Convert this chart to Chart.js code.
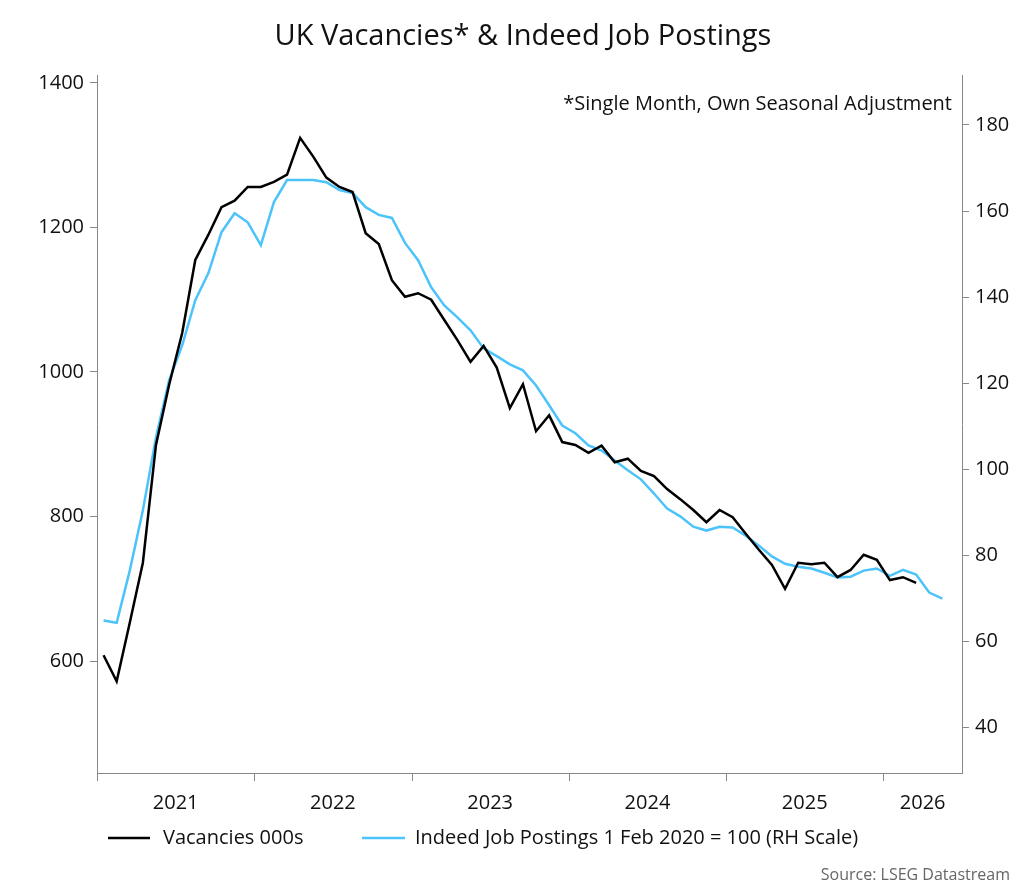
<!DOCTYPE html>
<html><head><meta charset="utf-8">
<script src="https://cdn.jsdelivr.net/npm/chart.js@4/dist/chart.umd.min.js"></script>
<style>html,body{margin:0;background:#fff}#c{display:block}</style>
</head><body>
<canvas id="c" width="1024" height="889"></canvas>
<script>
// months since Jan 2021, plotted at mid-month
const years = ['2021', '2022', '2023', '2024', '2025', '2026'];
const vacancies = [608, 572, 653, 736, 899, 982, 1054, 1155, 1190, 1228, 1237, 1256,
  1256, 1263, 1273, 1324, 1298, 1269, 1256, 1249, 1192, 1177, 1127, 1104,
  1109, 1100, 1072, 1044, 1014, 1036, 1006, 950, 983, 918, 940, 903,
  899, 888, 898, 875, 880, 863, 856, 838, 824, 809, 792, 809,
  799, 776, 754, 733, 700, 736, 734, 736, 716, 726, 747, 740,
  712, 716, 708];
const indeed = [64.9, 64.4, 76.5, 90.5, 107.4, 120.7, 128.8, 139.3, 145.6, 155.1, 159.5, 157.4,
  152.1, 162.1, 167.2, 167.2, 167.2, 166.7, 164.9, 164.2, 160.9, 159.1, 158.4, 152.6,
  148.6, 142.3, 138.1, 135.3, 132.3, 128.1, 126.3, 124.4, 123.0, 119.5, 114.9, 110.2,
  108.4, 105.6, 104.4, 102.1, 99.8, 97.7, 94.4, 90.9, 89.1, 86.7, 85.8, 86.7,
  86.5, 84.6, 82.3, 79.8, 78.1, 77.4, 77.0, 76.0, 74.9, 75.1, 76.5, 77.0,
  75.3, 76.7, 75.6, 71.4, 70.0];
const leftTicks = [600, 800, 1000, 1200, 1400];
const rightTicks = [40, 60, 80, 100, 120, 140, 160, 180];
const yearLabelPos = [6, 18, 30, 42, 54, 63];

const FONT = "'Open Sans', sans-serif";
const AXIS = '#888';
const BLUE = '#4cc3fa';

const extras = {
  id: 'extras',
  afterDraw(chart) {
    const ctx = chart.ctx, x = chart.scales.x, a = chart.chartArea;
    ctx.save();
    ctx.strokeStyle = AXIS; ctx.lineWidth = 1;
    for (let m = 0; m <= 60; m += 12) {
      const px = Math.round(x.getPixelForValue(m)) + 0.5;
      ctx.beginPath(); ctx.moveTo(px, a.bottom); ctx.lineTo(px, a.bottom + 8); ctx.stroke();
    }
    ctx.fillStyle = '#111';
    ctx.font = "29px " + FONT; ctx.textAlign = 'center'; ctx.textBaseline = 'middle';
    ctx.fillText('UK Vacancies* & Indeed Job Postings', 523, 37);
    ctx.font = "20px " + FONT; ctx.textAlign = 'right';
    ctx.fillText('*Single Month, Own Seasonal Adjustment', 952, 104);
    // legend
    ctx.lineWidth = 2.5;
    ctx.strokeStyle = '#000';
    ctx.beginPath(); ctx.moveTo(108, 838); ctx.lineTo(150, 838); ctx.stroke();
    ctx.strokeStyle = BLUE;
    ctx.beginPath(); ctx.moveTo(362, 838); ctx.lineTo(405, 838); ctx.stroke();
    ctx.textAlign = 'left';
    ctx.fillText('Vacancies 000s', 163, 838);
    ctx.fillText('Indeed Job Postings 1 Feb 2020 = 100 (RH Scale)', 415, 838);
    ctx.font = "16px " + FONT; ctx.textAlign = 'right'; ctx.fillStyle = '#666';
    ctx.fillText('Source: LSEG Datastream', 1010, 875);
    ctx.restore();
  }
};

new Chart(document.getElementById('c').getContext('2d'), {
  type: 'line',
  data: {
    datasets: [
      { label: 'Vacancies 000s', data: vacancies.map((v, i) => ({ x: i + 0.5, y: v })),
        borderColor: '#000', borderWidth: 2.5, pointRadius: 0, tension: 0, yAxisID: 'y' },
      { label: 'Indeed Job Postings 1 Feb 2020 = 100 (RH Scale)', data: indeed.map((v, i) => ({ x: i + 0.5, y: v })),
        borderColor: BLUE, borderWidth: 2.5, pointRadius: 0, tension: 0, yAxisID: 'y2' }
    ]
  },
  options: {
    responsive: false, animation: false,
    layout: { padding: { top: 75, bottom: 76, left: 0, right: 0 } },
    plugins: { legend: { display: false }, title: { display: false }, tooltip: { enabled: false } },
    scales: {
      x: {
        type: 'linear', min: 0, max: 66,
        afterBuildTicks: s => { s.ticks = yearLabelPos.map(v => ({ value: v })); },
        afterFit: s => { s.height = 40; },
        ticks: { callback: (v, i) => years[i], font: { family: FONT, size: 20 }, color: '#111', padding: 10, maxRotation: 0, autoSkip: false },
        grid: { display: false, drawOnChartArea: false },
        border: { display: true, color: AXIS }
      },
      y: {
        position: 'left', min: 445, max: 1411,
        afterBuildTicks: s => { s.ticks = leftTicks.map(v => ({ value: v })); },
        afterFit: s => { s.width = 97; },
        ticks: { callback: v => String(v), font: { family: FONT, size: 20 }, color: '#111', padding: 6 },
        grid: { drawOnChartArea: false, tickLength: 7, color: AXIS },
        border: { display: true, color: AXIS }
      },
      y2: {
        position: 'right', min: 29.5, max: 191.6,
        afterBuildTicks: s => { s.ticks = rightTicks.map(v => ({ value: v })); },
        afterFit: s => { s.width = 62; },
        ticks: { callback: v => String(v), font: { family: FONT, size: 20 }, color: '#111', padding: 6 },
        grid: { drawOnChartArea: false, tickLength: 7, color: AXIS },
        border: { display: true, color: AXIS }
      }
    }
  },
  plugins: [extras]
});
</script>
</body></html>
